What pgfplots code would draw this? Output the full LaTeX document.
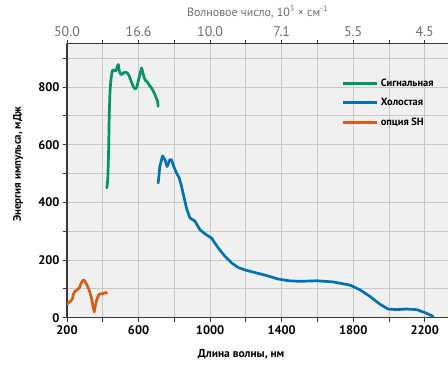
\documentclass[border=0pt]{standalone}
\usepackage{fontspec}
\setmainfont{PT Sans}
\usepackage{pgfplots}
\pgfplotsset{compat=1.18}
\usetikzlibrary{calc}
\definecolor{cgreen}{RGB}{0,146,105}
\definecolor{cblue}{RGB}{0,114,178}
\definecolor{corange}{RGB}{213,94,20}
\definecolor{axcol}{RGB}{55,55,55}
\definecolor{gridcol}{RGB}{200,200,200}
\definecolor{bgcol}{RGB}{240,240,240}
\definecolor{topcol}{RGB}{110,110,110}
\begin{document}
\begin{tikzpicture}
% top axis: background, grid, top ticks
\begin{axis}[
  name=top,
  scale only axis,
  width=381bp, height=274bp,
  xmin=200, xmax=2330, ymin=0, ymax=950,
  axis x line*=top, axis y line*=left,
  axis line style={axcol, line width=1.1pt},
  axis background/.style={fill=bgcol},
  xtick={200,600,...,2200}, minor xtick={400,800,...,2000},
  ytick={0,200,...,800}, minor ytick={100,300,...,900},
  yticklabels={},
  xticklabels={50.0,16.6,10.0,7.1,5.5,4.5},
  grid=both,
  major grid style={gridcol, line width=0.8pt},
  minor grid style={gridcol, line width=0.8pt},
  tick align=outside,
  major tick length=4bp, minor tick length=4bp,
  tick style={axcol, line width=0.9pt},
  ticklabel style={font=\fontsize{14}{16}\selectfont, text=topcol},
  xlabel={Волновое число, 10\textsuperscript{3} × см\textsuperscript{-1}},
  xlabel style={font=\fontsize{12}{14}\selectfont, text=topcol,
    at={(axis description cs:0.5,1.1157)}, anchor=center},
]
\addplot[draw=none] coordinates {(200,0)};
\end{axis}
\begin{axis}[
  name=main,
  scale only axis,
  width=381bp, height=274bp,
  xmin=200, xmax=2330, ymin=0, ymax=950,
  axis x line*=bottom, axis y line*=left,
  axis line style={axcol, line width=1.1pt},
  xtick={200,600,...,2200}, minor xtick={400,800,...,2000},
  ytick={0,200,...,800}, minor ytick={100,300,...,900},
  tick align=outside,
  major tick length=4bp, minor tick length=4bp,
  tick style={axcol, line width=0.9pt},
  scaled ticks=false,
  /pgf/number format/assume math mode=true,
  /pgf/number format/1000 sep={},
  ticklabel style={font=\fontsize{12.5}{14}\selectfont\bfseries, text=black},
  xlabel={Длина волны, нм},
  ylabel={Энергия импульса, мДж},
  xlabel style={font=\fontsize{11.5}{13}\selectfont\bfseries,
    at={(axis description cs:0.457,-0.135)}, anchor=center},
  ylabel style={font=\fontsize{11}{13}\selectfont\bfseries,
    at={(axis description cs:-0.1286,0.56)}, anchor=center},
  legend style={draw=none, fill=none, at={(0.976,0.888)}, anchor=north east,
    font=\fontsize{10.5}{12}\selectfont\bfseries, row sep=7bp},
  legend cell align=left,
  legend image code/.code={\draw[#1, line width=3pt] (0,0) -- (1.2cm,0);},
  line join=round, line cap=round,
]
\addplot[cgreen, line width=2.7pt] coordinates {
(423,450)(428,480)(432,560)(436,700)(440,780)(444,815)(450,845)(455,858)(462,855)(468,858)(473,856)(477,862)(482,872)(487,878)(491,860)(496,848)(503,843)(509,845)(518,850)(528,851)(538,848)(548,838)(560,818)(570,802)(577,795)(583,793)(590,800)(598,819)(608,845)(617,866)(624,850)(632,831)(640,822)(649,817)(660,806)(673,796)(683,785)(692,773)(700,760)(707,750)(709,733)
};
\addlegendentry{Сигнальная}
\addplot[cblue, line width=2.7pt] coordinates {
(710,467)(719,524)(734,561)(747,548)(760,524)(775,548)(784,548)(797,524)(812,502)(827,485)(840,456)(855,415)(869,378)(887,346)(915,335)(943,305)(971,291)(1008,276)(1045,242)(1083,213)(1120,190)(1157,174)(1204,164)(1260,155)(1316,146)(1381,134)(1440,128)(1502,126)(1595,128)(1688,124)(1781,113)(1837,97)(1893,74)(1949,47)(1995,30)(2042,28)(2098,30)(2154,28)(2200,18)(2246,5)
};
\addlegendentry{Холостая}
\addplot[corange, line width=2.7pt] coordinates {
(200,45)(207,51)(220,57)(230,65)(235,80)(245,92)(254,95)(262,100)(269,103)(278,118)(288,129)(295,130)(301,126)(310,115)(319,103)(328,88)(337,68)(345,40)(352,20)(358,40)(366,62)(374,75)(381,82)(390,83)(399,82)(406,86)(412,85)(417,88)(422,85)
};
\addlegendentry{опция SH}
\end{axis}
\pgfresetboundingbox
\path[use as bounding box] ($(main.south west)+(-67bp,-52bp)$) rectangle ($(main.north east)+(0,43.7bp)$);
\end{tikzpicture}
\end{document}
